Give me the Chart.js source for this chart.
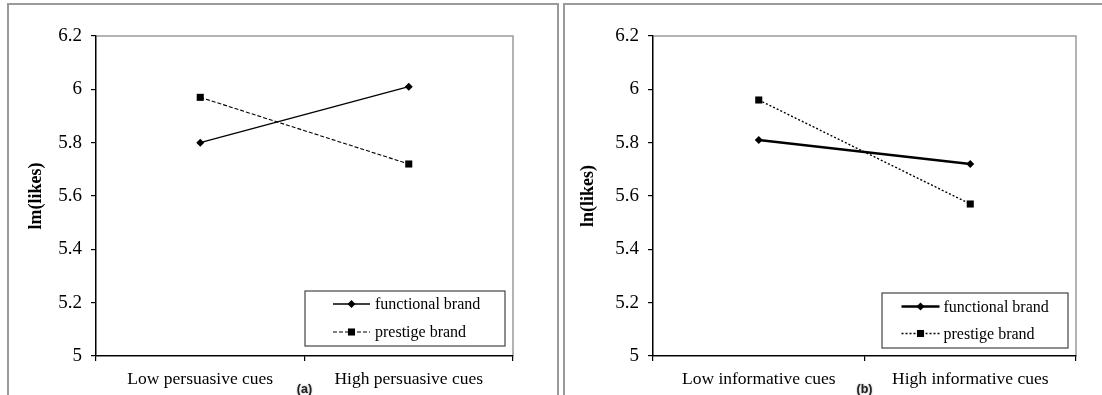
<!DOCTYPE html>
<html><head><meta charset="utf-8">
<script src="https://cdn.jsdelivr.net/npm/chart.js@4/dist/chart.umd.min.js"></script>
<style>
html,body{margin:0;padding:0;background:#fff;width:1102px;height:395px;overflow:hidden;position:relative;}
.panel{position:absolute;top:3px;height:400px;box-sizing:border-box;border:2px solid #9a9a9a;border-bottom:none;}
#pa{left:7px;width:552px;}
#pb{left:563px;width:560px;border-right:none;}
canvas{position:absolute;top:0;}
#ca{left:0;}
#cb{left:556px;}
.cap{position:absolute;top:382px;line-height:14px;font:bold 12.5px "Liberation Sans",Arial,sans-serif;color:#222;text-shadow:0 0 2px #999;transform:translateX(-50%);}
</style></head>
<body>
<div class="panel" id="pa"></div>
<div class="panel" id="pb"></div>
<canvas id="ca" width="556" height="395"></canvas>
<canvas id="cb" width="546" height="395"></canvas>
<div class="cap" id="capA" style="left:304.5px"></div>
<div class="cap" id="capB" style="left:864.5px"></div>
<script>
// ---- data ----
const categoriesA = ['Low persuasive cues', 'High persuasive cues'];
const categoriesB = ['Low informative cues', 'High informative cues'];
const functionalA = [5.80, 6.01];
const prestigeA   = [5.97, 5.72];
const functionalB = [5.81, 5.72];
const prestigeB   = [5.96, 5.57];
const yTicks = [5, 5.2, 5.4, 5.6, 5.8, 6, 6.2];
const seriesNames = ['functional brand', 'prestige brand'];
const yTitles = ['lm(likes)', 'ln(likes)'];
const panelLabels = ['(a)', '(b)'];

document.getElementById('capA').textContent = panelLabels[0];
document.getElementById('capB').textContent = panelLabels[1];

const SERIF = '"Liberation Serif","Times New Roman",serif';

function marker(ctx, style, r, x, y) {
  ctx.beginPath();
  if (style === 'rectRot') {
    ctx.moveTo(x, y - r); ctx.lineTo(x + r, y); ctx.lineTo(x, y + r); ctx.lineTo(x - r, y);
  } else {
    const s = Math.SQRT1_2 * r;
    ctx.rect(x - s, y - s, 2 * s, 2 * s);
  }
  ctx.closePath();
  ctx.fill();
}

const frameBox = {
  id: 'frameBox',
  beforeDraw(chart) {
    const {ctx, chartArea: a} = chart;
    ctx.save();
    ctx.strokeStyle = '#9a9a9a';
    ctx.lineWidth = 1.5;
    ctx.strokeRect(a.left, a.top, a.right - a.left, a.bottom - a.top);
    ctx.restore();
  }
};

const boxLegend = {
  id: 'boxLegend',
  afterDraw(chart, args, o) {
    const {ctx, chartArea: a} = chart;
    const x0 = a.right - o.marginRight - o.width;
    const y0 = a.bottom - o.marginBottom - o.height;
    ctx.save();
    ctx.fillStyle = '#fff';
    ctx.fillRect(x0, y0, o.width, o.height);
    ctx.strokeStyle = '#444';
    ctx.lineWidth = 1.2;
    ctx.strokeRect(x0, y0, o.width, o.height);
    chart.data.datasets.forEach((ds, i) => {
      const cy = y0 + o.rowTop + i * o.rowGap;
      const lx = x0 + o.lineStart;
      ctx.strokeStyle = ds.borderColor;
      ctx.lineWidth = ds.borderWidth;
      ctx.setLineDash(ds.borderDash || []);
      ctx.beginPath(); ctx.moveTo(lx, cy); ctx.lineTo(lx + o.lineLen, cy); ctx.stroke();
      ctx.setLineDash([]);
      ctx.fillStyle = ds.pointBackgroundColor;
      marker(ctx, ds.pointStyle, ds.pointRadius, lx + o.lineLen / 2, cy);
      ctx.fillStyle = '#000';
      ctx.font = '16px ' + SERIF;
      ctx.textBaseline = 'middle';
      ctx.textAlign = 'left';
      ctx.fillText(ds.label, lx + o.lineLen + o.textGap, cy + 1);
    });
    ctx.restore();
  }
};

function makeChart(id, cats, fVals, pVals, cfg) {
  return new Chart(document.getElementById(id), {
    type: 'line',
    data: {
      labels: cats,
      datasets: [
        {label: seriesNames[0], data: fVals, borderColor: '#000', borderWidth: cfg.fWidth,
         pointStyle: 'rectRot', pointRadius: 4, pointBackgroundColor: '#000', pointBorderColor: '#000', pointBorderWidth: 0,
         tension: 0, fill: false},
        {label: seriesNames[1], data: pVals, borderColor: '#000', borderWidth: cfg.pWidth, borderDash: cfg.pDash,
         pointStyle: 'rect', pointRadius: 5, pointBackgroundColor: '#000', pointBorderColor: '#000', pointBorderWidth: 0,
         tension: 0, fill: false}
      ]
    },
    options: {
      responsive: false, animation: false, devicePixelRatio: 1,
      layout: {padding: {left: 0, top: 36, right: cfg.padRight, bottom: 1}},
      plugins: {legend: {display: false}, tooltip: {enabled: false}, boxLegend: cfg.legend},
      scales: {
        x: {
          type: 'category', offset: true,
          grid: {display: true, drawOnChartArea: false, offset: true, color: '#000', tickLength: 5, lineWidth: 1.2},
          border: {color: '#000', width: 1.3},
          ticks: {color: '#000', font: {family: SERIF, size: 17.5}, padding: 8, maxRotation: 0, autoSkip: false},
          afterFit(s) { s.height = 38; }
        },
        y: {
          min: 5, max: 6.2,
          afterBuildTicks(s) { s.ticks = yTicks.map(v => ({value: v})); },
          grid: {drawOnChartArea: false, color: '#000', tickLength: 5, lineWidth: 1.2},
          border: {color: '#000', width: 1.3},
          ticks: {color: '#000', font: {family: SERIF, size: 19}, padding: 9,
                  callback: v => String(+Number(v).toFixed(1))},
          title: {display: true, text: cfg.yTitle, color: '#000',
                  font: {family: SERIF, size: 18, weight: 'bold'}, padding: {top: cfg.titlePad, bottom: 0}},
          afterFit(s) { s.width = cfg.yWidth; }
        }
      }
    },
    plugins: [frameBox, boxLegend]
  });
}

makeChart('ca', categoriesA, functionalA, prestigeA, {
  fWidth: 1.3, pWidth: 1.1, pDash: [4, 2], padRight: 43, yWidth: 96, titlePad: 26, yTitle: yTitles[0],
  legend: {width: 200, height: 55, marginRight: 8, marginBottom: 10, rowTop: 13, rowGap: 28, lineStart: 28, lineLen: 37, textGap: 5}
});
makeChart('cb', categoriesB, functionalB, prestigeB, {
  fWidth: 2.3, pWidth: 1.4, pDash: [2, 2], padRight: 26, yWidth: 97, titlePad: 22, yTitle: yTitles[1],
  legend: {width: 186, height: 55, marginRight: 8, marginBottom: 8, rowTop: 13.5, rowGap: 27, lineStart: 19.5, lineLen: 38, textGap: 4}
});
</script>
</body></html>
